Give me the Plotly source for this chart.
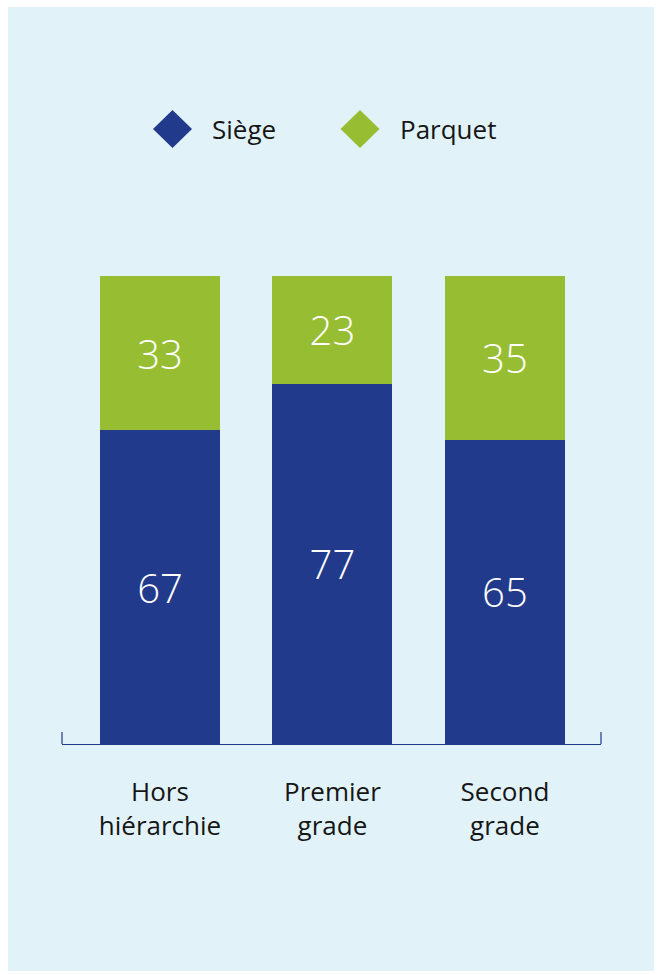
import plotly.graph_objects as go

# Répartition siège / parquet par grade (en %)
grades = ["Hors<br>hiérarchie", "Premier<br>grade", "Second<br>grade"]
siege = [67, 77, 65]
parquet = [33, 23, 35]
series_names = ["Siège", "Parquet"]

BLUE = "#213A8B"
GREEN = "#97BE32"
PANEL = "#E1F3F8"
TEXT = "#161616"
FONT = "Open Sans"

W, H = 660, 975
ML, MR, MT, MB = 62, 59, 200, 231
PW, PH = W - ML - MR, H - MT - MB


def px_x(px):
    return (px - ML) / PW


def px_y(py):
    return (H - MB - py) / PH


fig = go.Figure()
for name, vals, col in [(series_names[0], siege, BLUE), (series_names[1], parquet, GREEN)]:
    fig.add_trace(go.Bar(
        x=grades, y=vals, name=name, marker=dict(color=col, line=dict(width=0)),
        texttemplate="%{y}", textposition="inside", insidetextanchor="middle",
        textfont=dict(family=FONT, size=40, color="white", weight=300),
        showlegend=False, hoverinfo="skip",
    ))

shapes = [
    # light panel behind the chart
    dict(type="rect", xref="paper", yref="paper", layer="below",
         x0=px_x(8), x1=px_x(654), y0=px_y(971), y1=px_y(7),
         fillcolor=PANEL, line=dict(width=0)),
    # end ticks of the baseline
    dict(type="line", xref="paper", yref="paper", x0=0, x1=0, y0=0, y1=12 / PH,
         line=dict(color=BLUE, width=1.2)),
    dict(type="line", xref="paper", yref="paper", x0=1, x1=1, y0=0, y1=12 / PH,
         line=dict(color=BLUE, width=1.2)),
]
annotations = []
# legend: diamonds and labels
for name, col, cx, tx in [(series_names[0], BLUE, 172.5, 210), (series_names[1], GREEN, 360, 398)]:
    shapes.append(dict(
        type="path", xref="paper", yref="paper",
        xsizemode="pixel", ysizemode="pixel",
        xanchor=px_x(cx), yanchor=px_y(129),
        path="M 0,19 L 19.5,0 L 0,-19 L -19.5,0 Z",
        fillcolor=col, line=dict(width=0),
    ))
    annotations.append(dict(
        xref="paper", yref="paper", x=px_x(tx), y=px_y(129),
        xanchor="left", yanchor="middle", showarrow=False, text=name,
        font=dict(family=FONT, size=26, color=TEXT),
    ))

fig.update_layout(
    width=W, height=H,
    margin=dict(l=ML, r=MR, t=MT, b=MB),
    paper_bgcolor="white", plot_bgcolor="rgba(0,0,0,0)",
    barmode="stack", bargap=0.304,
    shapes=shapes, annotations=annotations,
    xaxis=dict(
        range=[-0.568, 2.557],
        showline=True, linecolor=BLUE, linewidth=1.2,
        ticks="outside", ticklen=25, tickcolor="rgba(0,0,0,0)",
        tickfont=dict(family=FONT, size=26, color=TEXT),
        showgrid=False, zeroline=False, fixedrange=True,
    ),
    yaxis=dict(range=[0, PH / 4.68], visible=False, showgrid=False,
               zeroline=False, fixedrange=True),
)

fig.write_html("out.html")
